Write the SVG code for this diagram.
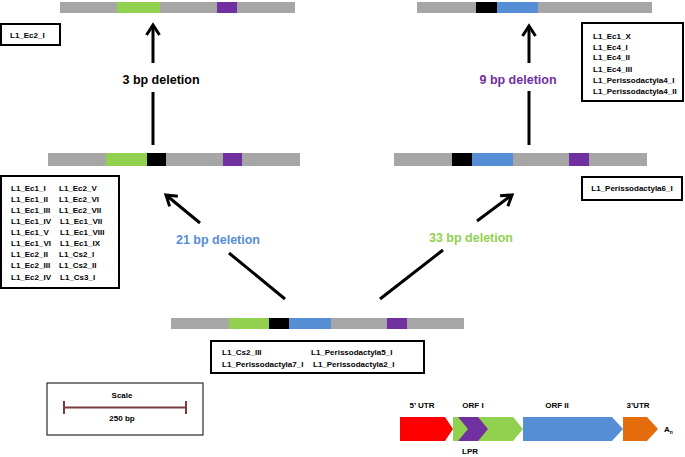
<svg xmlns="http://www.w3.org/2000/svg" width="685" height="457" viewBox="0 0 685 457">
<style>
.bar{fill:#A6A6A6}
.g{fill:#92D050}
.k{fill:#000}
.b{fill:#558ED5}
.p{fill:#7030A0}
.box{fill:#fff;stroke:#000;stroke-width:2}
.t{font-family:"Liberation Sans",Arial,sans-serif;font-weight:bold;font-size:8px;fill:#000}
.lab{font-family:"Liberation Sans",Arial,sans-serif;font-weight:bold;font-size:12.5px}
.leg{font-family:"Liberation Sans",Arial,sans-serif;font-weight:bold;font-size:8px;fill:#000}
.ln{stroke:#000;stroke-width:3;fill:none}
</style>
<defs>
<marker id="ah" markerUnits="userSpaceOnUse" markerWidth="20" markerHeight="20" refX="0" refY="0" viewBox="-12 -10 14 20" orient="auto">
<path d="M-10,-6.5 L0,0 L-10,6.5" fill="none" stroke="#000" stroke-width="3"/>
</marker>
</defs>

<g id="seq-top-left">
<rect class="bar" x="60" y="2" width="235" height="11"/>
<rect class="g" x="117" y="2" width="43" height="11"/>
<rect class="p" x="217" y="2" width="20" height="11"/>
</g>
<g id="box-top-left">
<rect class="box" x="1" y="24" width="59" height="21"/>
<text class="t" x="10" y="37.5">L1_Ec2_I</text>
</g>

<g id="seq-top-right">
<rect class="bar" x="417" y="2" width="235" height="11"/>
<rect class="k" x="476" y="2" width="21" height="11"/>
<rect class="b" x="497" y="2" width="41" height="11"/>
</g>
<g id="box-top-right">
<rect class="box" x="582" y="23" width="101" height="78"/>
<text class="t" x="593" y="39">L1_Ec1_X</text>
<text class="t" x="593" y="50">L1_Ec4_I</text>
<text class="t" x="593" y="60">L1_Ec4_II</text>
<text class="t" x="593" y="72">L1_Ec4_III</text>
<text class="t" x="593" y="83">L1_Perissodactyla4_I</text>
<text class="t" x="593" y="94">L1_Perissodactyla4_II</text>
</g>

<g id="seq-mid-left">
<rect class="bar" x="48" y="153" width="252" height="13"/>
<rect class="g" x="106" y="153" width="41" height="13"/>
<rect class="k" x="147" y="153" width="19" height="13"/>
<rect class="p" x="223" y="153" width="19" height="13"/>
</g>
<g id="box-mid-left">
<rect class="box" x="1" y="176" width="118" height="112"/>
<text class="t" x="11" y="191">L1_Ec1_I</text>
<text class="t" x="11" y="201.5">L1_Ec1_II</text>
<text class="t" x="11" y="213">L1_Ec1_III</text>
<text class="t" x="11" y="224">L1_Ec1_IV</text>
<text class="t" x="11" y="234.5">L1_Ec1_V</text>
<text class="t" x="11" y="246">L1_Ec1_VI</text>
<text class="t" x="11" y="257">L1_Ec2_II</text>
<text class="t" x="11" y="268">L1_Ec2_III</text>
<text class="t" x="11" y="280">L1_Ec2_IV</text>
<text class="t" x="59" y="191">L1_Ec2_V</text>
<text class="t" x="59" y="201.5">L1_Ec2_VI</text>
<text class="t" x="59" y="213">L1_Ec2_VII</text>
<text class="t" x="60" y="224">L1_Ec1_VII</text>
<text class="t" x="60" y="234.5">L1_Ec1_VIII</text>
<text class="t" x="60" y="246">L1_Ec1_IX</text>
<text class="t" x="59" y="257">L1_Cs2_I</text>
<text class="t" x="59" y="268">L1_Cs2_II</text>
<text class="t" x="60" y="280">L1_Cs3_I</text>
</g>

<g id="seq-mid-right">
<rect class="bar" x="394" y="153" width="253" height="13"/>
<rect class="k" x="452" y="153" width="20" height="13"/>
<rect class="b" x="472" y="153" width="41" height="13"/>
<rect class="p" x="569" y="153" width="20" height="13"/>
</g>
<g id="box-mid-right">
<rect class="box" x="582" y="177" width="100" height="23"/>
<text class="t" x="632" y="191" text-anchor="middle">L1_Perissodactyla6_I</text>
</g>

<g id="seq-bottom">
<rect class="bar" x="171" y="318" width="293" height="11"/>
<rect class="g" x="229" y="318" width="40" height="11"/>
<rect class="k" x="269" y="318" width="20" height="11"/>
<rect class="b" x="289" y="318" width="42" height="11"/>
<rect class="p" x="387" y="318" width="20" height="11"/>
</g>
<g id="box-bottom">
<rect class="box" x="211" y="341" width="213" height="32"/>
<text class="t" x="222" y="355">L1_Cs2_III</text>
<text class="t" x="222" y="367">L1_Perissodactyla7_I</text>
<text class="t" x="311" y="355">L1_Perissodactyla5_I</text>
<text class="t" x="313" y="367">L1_Perissodactyla2_I</text>
</g>

<g id="connectors">
<line class="ln" x1="153" y1="145" x2="153" y2="92"/>
<line class="ln" x1="153" y1="63" x2="153" y2="25" marker-end="url(#ah)"/>
<line class="ln" x1="529" y1="145" x2="529" y2="91"/>
<line class="ln" x1="529" y1="63" x2="529" y2="26" marker-end="url(#ah)"/>
<line class="ln" x1="285" y1="299" x2="229" y2="253"/>
<line class="ln" x1="200" y1="223" x2="166" y2="195" marker-end="url(#ah)"/>
<line class="ln" x1="380" y1="299" x2="443" y2="250"/>
<line class="ln" x1="477" y1="221" x2="512" y2="195" marker-end="url(#ah)"/>
<text class="lab" x="161" y="83.5" text-anchor="middle" fill="#000">3 bp deletion</text>
<text class="lab" x="518" y="83.5" text-anchor="middle" fill="#7030A0">9 bp deletion</text>
<text class="lab" x="218" y="243.5" text-anchor="middle" fill="#558ED5">21 bp deletion</text>
<text class="lab" x="471" y="241.5" text-anchor="middle" fill="#92D050">33 bp deletion</text>
</g>

<g id="scale">
<rect x="47" y="383" width="156" height="52" fill="#fff" stroke="#000" stroke-width="1"/>
<text class="leg" x="122" y="398" text-anchor="middle">Scale</text>
<line x1="63" y1="407.5" x2="187" y2="407.5" stroke="#7B3B3B" stroke-width="2"/>
<line x1="64" y1="401" x2="64" y2="414" stroke="#7B3B3B" stroke-width="2"/>
<line x1="186" y1="401" x2="186" y2="414" stroke="#7B3B3B" stroke-width="2"/>
<text class="leg" x="122" y="421" text-anchor="middle">250 bp</text>
</g>

<g id="legend">
<polygon points="400,417 445,417 453,429 445,441 400,441" fill="#FF0000"/>
<polygon points="453,417 513,417 523,429 513,441 453,441" fill="#92D050"/>
<polygon points="458,417 478,417 488,429 478,441 458,441 468,429" fill="#7030A0"/>
<polygon points="523,417 612,417 623,429 612,441 523,441" fill="#558ED5"/>
<polygon points="623,417 647,417 658,429 647,441 623,441" fill="#E46C0A"/>
<text class="leg" x="422" y="408" text-anchor="middle">5’ UTR</text>
<text class="leg" x="473" y="408" text-anchor="middle">ORF I</text>
<text class="leg" x="557" y="408" text-anchor="middle">ORF II</text>
<text class="leg" x="638" y="408" text-anchor="middle">3’UTR</text>
<text class="leg" x="470" y="454" text-anchor="middle" fill="#7030A0">LPR</text>
<text class="leg" x="664" y="432" fill="#558ED5">A<tspan font-size="5" dy="2">n</tspan></text>
</g>
</svg>
